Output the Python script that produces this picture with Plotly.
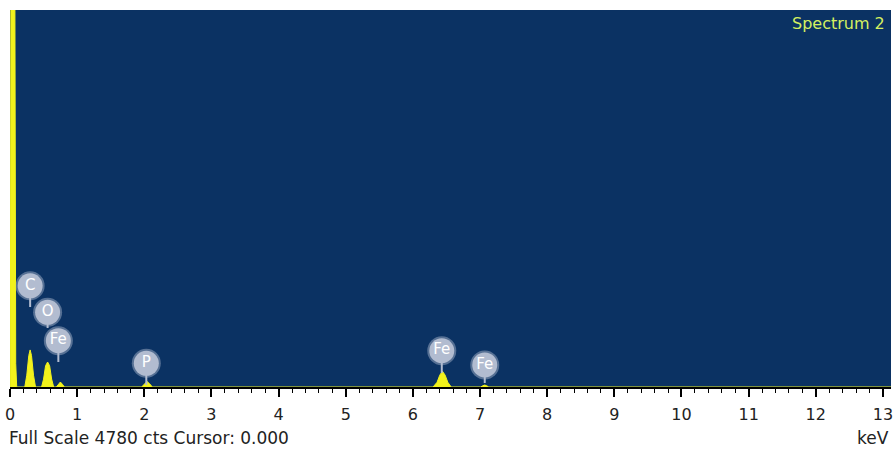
import plotly.graph_objects as go

# Spectrum (keV, counts); full scale 4780 cts
spectrum_kev = [0.00, 0.005, 0.015, 0.07, 0.085, 0.10,
                0.22, 0.25, 0.28, 0.30, 0.32, 0.35, 0.38,
                0.47, 0.50, 0.53, 0.56, 0.59, 0.62, 0.65,
                0.69, 0.72, 0.75, 0.78, 0.81,
                1.96, 2.00, 2.04, 2.08, 2.12,
                6.30, 6.36, 6.40, 6.44, 6.48, 6.52, 6.57,
                7.01, 7.04, 7.07, 7.10, 7.13, 13.12]
spectrum_cts = [0, 0, 6000, 6000, 300, 0,
                0, 150, 400, 470, 400, 150, 0,
                0, 100, 270, 317, 270, 100, 0,
                0, 35, 63, 35, 0,
                0, 40, 70, 40, 0,
                0, 60, 150, 200, 150, 60, 0,
                0, 15, 25, 15, 0, 0]

# Element labels: name, energy (keV), badge height and stem foot (counts)
label_names = ["C", "O", "Fe", "P", "Fe", "Fe"]
label_kev = [0.30, 0.56, 0.72, 2.03, 6.43, 7.07]
label_badge_cts = [1283, 947, 587, 300, 460, 280]
label_foot_cts = [1014, 748, 317, 25, 178, 51]

full_scale = 4780
x_ticks = list(range(0, 14))

badge_col = "rgb(178,188,208)"
FONT = "DejaVu Sans, Liberation Sans, Arial"

fig = go.Figure()

fig.add_trace(go.Scatter(
    x=spectrum_kev, y=spectrum_cts, mode="lines",
    line=dict(color="#f2f21c", width=1),
    fill="tozeroy", fillcolor="#f2f21c",
    hoverinfo="skip", showlegend=False, cliponaxis=True))

# stems
for xk, yb, yf in zip(label_kev, label_badge_cts, label_foot_cts):
    fig.add_trace(go.Scatter(
        x=[xk, xk], y=[yb, yf], mode="lines",
        line=dict(color=badge_col, width=2),
        hoverinfo="skip", showlegend=False))

# fuzzy halo
fig.add_trace(go.Scatter(
    x=label_kev, y=label_badge_cts, mode="markers",
    marker=dict(size=29, color="rgba(178,188,208,0.45)", line=dict(width=0)),
    hoverinfo="skip", showlegend=False))

fig.add_trace(go.Scatter(
    x=label_kev, y=label_badge_cts, mode="markers+text",
    marker=dict(size=25, color=badge_col, line=dict(width=0)),
    text=label_names, textposition="middle center",
    textfont=dict(color="white", size=15, family=FONT),
    hoverinfo="skip", showlegend=False))

fig.update_layout(
    width=895, height=450,
    margin=dict(l=10, r=2, t=10, b=63),
    paper_bgcolor="white",
    plot_bgcolor="#0b3263",
    font=dict(family=FONT, size=16, color="#222222"),
    xaxis=dict(
        range=[0, 13.12], tickvals=x_ticks, ticktext=[str(v) for v in x_ticks],
        showgrid=False, zeroline=False,
        showline=True, linecolor="black", linewidth=1.5,
        ticks="outside", ticklen=8, tickwidth=1.5, tickcolor="black",
        ticklabelstandoff=4, ticklabeloverflow="allow",
        tickfont=dict(size=16, color="#222222", family=FONT),
        minor=dict(dtick=0.2, tick0=0, ticks="outside", ticklen=4,
                   tickwidth=1, tickcolor="black", showgrid=False),
    ),
    yaxis=dict(range=[0, full_scale], visible=False, fixedrange=True),
    annotations=[
        dict(text="Full Scale %d cts Cursor: 0.000" % full_scale,
             xref="paper", yref="paper", x=-0.003, y=-0.135,
             xanchor="left", yanchor="middle", showarrow=False,
             font=dict(size=17, color="#222222", family=FONT)),
        dict(text="keV", xref="paper", yref="paper", x=1.0, y=-0.135,
             xanchor="right", yanchor="middle", showarrow=False,
             font=dict(size=17, color="#222222", family=FONT)),
        dict(text="Spectrum 2", xref="paper", yref="paper", x=0.996, y=0.994,
             xanchor="right", yanchor="top", showarrow=False,
             font=dict(size=16, color="#d4f060", family=FONT)),
    ],
)

fig.write_html("out.html",
               config={"displayModeBar": False},
               post_script="document.body.style.margin='0px';"
                           "document.body.style.overflow='hidden';")
